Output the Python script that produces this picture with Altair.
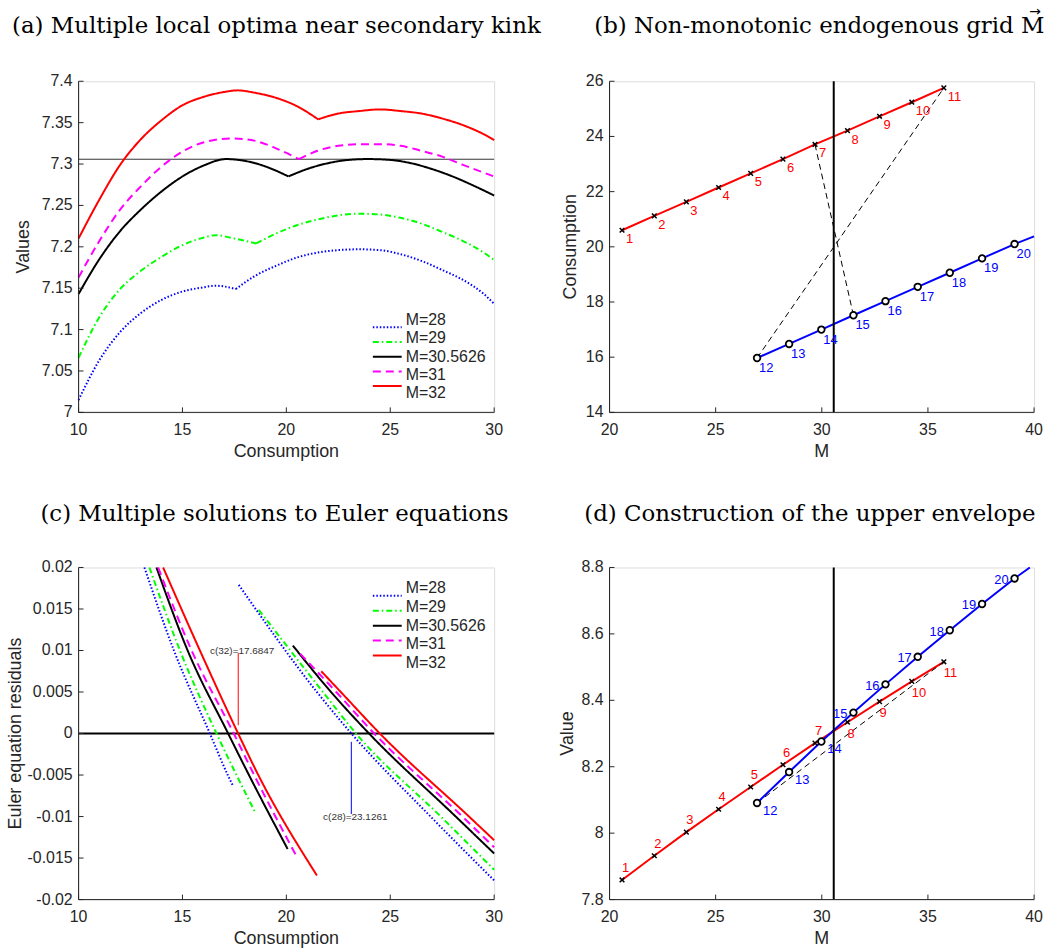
import altair as alt
import pandas as pd

SERIES = ["M=28", "M=29", "M=30.5626", "M=31", "M=32"]
COLORS = ["#0000ff", "#00ff00", "#000000", "#ff00ff", "#ff0000"]
DASHES = [[1.5, 2], [6, 3, 1.5, 3], [1, 0], [8, 5], [1, 0]]

# ---------------- panel (a): values vs consumption ----------------
a_c_28 = [10, 11, 12, 13, 14, 15, 16, 16.6, 17.57, 18.5, 19.5, 20.5, 21.5, 22.5, 23.5, 24.5, 25.5, 26.5, 27.5, 28.5, 29.5, 30]
a_v_28 = [7.015, 7.063, 7.097, 7.120, 7.136, 7.146, 7.151, 7.153, 7.149, 7.165, 7.177, 7.187, 7.193, 7.196, 7.197, 7.196, 7.191, 7.183, 7.172, 7.160, 7.143, 7.131]
a_c_29 = [10, 11, 12, 13, 14, 15, 16, 16.6, 17.5, 18.55, 19.5, 20.5, 21.5, 22.5, 23.5, 24.5, 25.5, 26.5, 27.5, 28.5, 29.5, 30]
a_v_29 = [7.066, 7.115, 7.149, 7.171, 7.188, 7.202, 7.211, 7.214, 7.210, 7.204, 7.216, 7.226, 7.233, 7.238, 7.240, 7.239, 7.235, 7.228, 7.218, 7.207, 7.193, 7.184]
a_c_30 = [10, 11, 12, 13, 14, 15, 16, 17.1, 18.5, 19.5, 20.1, 21, 22, 23, 23.93, 25, 26, 27, 28, 29, 30]
a_v_30 = [7.143, 7.185, 7.219, 7.245, 7.267, 7.285, 7.298, 7.306, 7.301, 7.292, 7.285, 7.294, 7.301, 7.305, 7.306, 7.305, 7.301, 7.294, 7.285, 7.274, 7.262]
a_c_31 = [10, 11, 12, 13, 14, 15, 16, 17.4, 18.5, 19.5, 20.6, 21.5, 22.5, 23.5, 24.5, 25.5, 26.5, 27.5, 28.5, 30]
a_v_31 = [7.163, 7.207, 7.245, 7.273, 7.297, 7.315, 7.326, 7.331, 7.328, 7.319, 7.306, 7.316, 7.322, 7.324, 7.324, 7.322, 7.316, 7.309, 7.299, 7.285]
a_c_32 = [10, 11, 12, 13, 14, 15, 16, 17, 17.65, 18.5, 19.5, 20.5, 21.53, 22.5, 23.5, 24.5, 25.5, 26.5, 27.5, 28.5, 29.5, 30]
a_v_32 = [7.210, 7.257, 7.299, 7.330, 7.353, 7.371, 7.381, 7.387, 7.389, 7.386, 7.380, 7.370, 7.354, 7.361, 7.364, 7.366, 7.364, 7.361, 7.355, 7.347, 7.336, 7.329]
a_kinks = [17.57, 18.55, 20.1, 20.6, 21.53]
a_ref = 7.3058
a_xticks = [10, 15, 20, 25, 30]
a_yticks = [7, 7.05, 7.1, 7.15, 7.2, 7.25, 7.3, 7.35, 7.4]

# ---------------- panel (c): Euler residuals ----------------
c_l_c_28 = [13.17, 14.59, 16.32, 17.18, 17.45]
c_l_r_28 = [0.02, 0.01, 0.0, -0.005, -0.0064]
c_r_c_28 = [17.71, 21.47, 23.13, 26.94, 30.0]
c_r_r_28 = [0.0179, 0.005, 0.0, -0.01, -0.0177]
c_l_c_29 = [13.41, 14.88, 16.64, 17.60, 18.50]
c_l_r_29 = [0.02, 0.01, 0.0, -0.005, -0.0095]
c_r_c_29 = [18.67, 21.76, 23.35, 27.43, 30.0]
c_r_r_29 = [0.0149, 0.005, 0.0, -0.01, -0.0164]
c_l_c_30 = [13.75, 15.25, 17.20, 18.20, 20.06]
c_l_r_30 = [0.02, 0.01, 0.0, -0.005, -0.0139]
c_r_c_30 = [20.31, 22.15, 23.98, 28.15, 30.0]
c_r_r_30 = [0.0106, 0.005, 0.0, -0.01, -0.01445]
c_l_c_31 = [13.83, 15.44, 17.47, 18.45, 20.47]
c_l_r_31 = [0.02, 0.01, 0.0, -0.005, -0.0147]
c_r_c_31 = [20.67, 22.40, 24.23, 28.47, 30.0]
c_r_r_31 = [0.0096, 0.005, 0.0, -0.01, -0.0137]
c_l_c_32 = [14.07, 15.84, 17.68, 18.65, 21.47]
c_l_r_32 = [0.02, 0.01, 0.0, -0.005, -0.0171]
c_r_c_32 = [21.68, 22.62, 24.50, 28.79, 30.0]
c_r_r_32 = [0.0075, 0.005, 0.0, -0.01, -0.01285]
c_ann_text = ["c(32)=17.6847", "c(28)=23.1261"]
c_ann_x = [17.6847, 23.1261]
c_ann_y1 = [0.0097, -0.0010]
c_ann_y2 = [0.0010, -0.0097]
c_ann_ty = [0.0099, -0.0101]
c_ann_col = ["#ff0000", "#0000ff"]
c_xticks = [10, 15, 20, 25, 30]
c_yticks = [-0.02, -0.015, -0.01, -0.005, 0, 0.005, 0.01, 0.015, 0.02]

# ---------------- panels (b) and (d): endogenous grid ----------------
red_ids = [1, 2, 3, 4, 5, 6, 7, 8, 9, 10, 11]
red_m = [20.59, 22.11, 23.62, 25.14, 26.65, 28.17, 29.68, 31.21, 32.72, 34.24, 35.75]
red_c = [20.60, 21.12, 21.63, 22.15, 22.66, 23.18, 23.71, 24.21, 24.73, 25.24, 25.76]
red_v = [7.859, 7.932, 8.003, 8.072, 8.139, 8.206, 8.271, 8.334, 8.396, 8.457, 8.516]
blue_ids = [12, 13, 14, 15, 16, 17, 18, 19, 20]
blue_m = [26.95, 28.46, 29.98, 31.49, 33.00, 34.52, 36.03, 37.55, 39.08]
blue_c = [15.97, 16.48, 17.00, 17.52, 18.03, 18.55, 19.06, 19.58, 20.10]
blue_v = [8.091, 8.184, 8.276, 8.363, 8.448, 8.531, 8.611, 8.690, 8.767]
blue_end_b = [40.0, 20.38]
blue_end_d = [39.8, 8.8]
m_star = 30.5626
bd_xticks = [20, 25, 30, 35, 40]
b_yticks = [14, 16, 18, 20, 22, 24, 26]
d_yticks = [7.8, 8, 8.2, 8.4, 8.6, 8.8]

AXC = "#262626"
SANS = "Liberation Sans"
SERIF = "DejaVu Serif"
ONE = pd.DataFrame({"t": [""]})


def fmt(v):
    return f"{v:g}"


def txt(text, x, y, **kw):
    return alt.Chart(pd.DataFrame({"t": [text]})).mark_text(**kw).encode(
        x=alt.value(x), y=alt.value(y), text="t:N")


def frame(xs, ys, xticks, yticks, W, H, xtitle, ytitle, ytx, ttl, tdx, tty):
    """Axis lines, inward ticks, tick labels, axis titles and panel title."""
    dom_x = alt.Chart(ONE).mark_rule(color=AXC, strokeWidth=1).encode(
        x=alt.value(0), x2=alt.value(W), y=alt.value(H))
    dom_y = alt.Chart(ONE).mark_rule(color=AXC, strokeWidth=1).encode(
        x=alt.value(0), y=alt.value(0), y2=alt.value(H))
    tx = alt.Chart(pd.DataFrame({"t": xticks})).mark_rule(color=AXC, strokeWidth=1).encode(
        x=alt.X("t:Q", scale=xs, axis=None), y=alt.value(H), y2=alt.value(H - 5))
    ty = alt.Chart(pd.DataFrame({"t": yticks})).mark_rule(color=AXC, strokeWidth=1).encode(
        y=alt.Y("t:Q", scale=ys, axis=None), x=alt.value(0), x2=alt.value(5))
    xl = alt.Chart(pd.DataFrame({"t": xticks, "lab": [fmt(v) for v in xticks]})).mark_text(
        font=SANS, fontSize=16, color=AXC, baseline="middle", align="center").encode(
        x=alt.X("t:Q", scale=xs, axis=None), y=alt.value(H + 18), text="lab:N")
    yl = alt.Chart(pd.DataFrame({"t": yticks, "lab": [fmt(v) for v in yticks]})).mark_text(
        font=SANS, fontSize=16, color=AXC, baseline="middle", align="right").encode(
        y=alt.Y("t:Q", scale=ys, axis=None), x=alt.value(-6), text="lab:N")
    xt = txt(xtitle, W / 2, H + 40, font=SANS, fontSize=18, color=AXC,
             baseline="middle", align="center")
    yt = txt(ytitle, ytx, H / 2, font=SANS, fontSize=18, color=AXC,
             baseline="middle", align="center", angle=270)
    tt = txt(ttl, W / 2 + tdx, tty, font=SERIF, fontSize=23, color="black",
             baseline="alphabetic", align="center")
    return [dom_x, dom_y, tx, ty, xl, yl, xt, yt, tt]


def legend_layers(ys_range):
    ysc = alt.Y("series:N", scale=alt.Scale(domain=SERIES, range=ys_range, padding=0),
                axis=None)
    sym = alt.Chart(pd.DataFrame({"series": SERIES})).mark_rule(strokeWidth=2).encode(
        x=alt.value(296), x2=alt.value(325), y=ysc,
        color=alt.Color("series:N", scale=alt.Scale(domain=SERIES, range=COLORS), legend=None),
        strokeDash=alt.StrokeDash("series:N", scale=alt.Scale(domain=SERIES, range=DASHES),
                                  legend=None))
    lab = alt.Chart(pd.DataFrame({"series": SERIES})).mark_text(
        font=SANS, fontSize=16, color=AXC, align="left", baseline="middle").encode(
        x=alt.value(329), y=ysc, text="series:N")
    return [sym, lab]


color_enc = alt.Color("series:N", scale=alt.Scale(domain=SERIES, range=COLORS), legend=None)
dash_enc = alt.StrokeDash("series:N", scale=alt.Scale(domain=SERIES, range=DASHES), legend=None)

# ---- build (a)
rows = []
for s, cs, vs, k in zip(SERIES, [a_c_28, a_c_29, a_c_30, a_c_31, a_c_32],
                        [a_v_28, a_v_29, a_v_30, a_v_31, a_v_32], a_kinks):
    for c, v in zip(cs, vs):
        if c <= k:
            rows.append({"series": s, "seg": s + "L", "c": c, "v": v})
        if c >= k:
            rows.append({"series": s, "seg": s + "R", "c": c, "v": v})
df_a = pd.DataFrame(rows)

WA, HA = 418, 333
xs_a = alt.Scale(domain=[10, 30], nice=False, zero=False)
ys_a = alt.Scale(domain=[7, 7.4], nice=False, zero=False)
lines_a = alt.Chart(df_a).mark_line(strokeWidth=2, interpolate="monotone").encode(
    x=alt.X("c:Q", scale=xs_a, axis=None),
    y=alt.Y("v:Q", scale=ys_a, axis=None),
    color=color_enc, strokeDash=dash_enc, detail="seg:N",
)
ref_a = alt.Chart(pd.DataFrame({"v": [a_ref]})).mark_rule(color="#333333", strokeWidth=1).encode(
    y=alt.Y("v:Q", scale=ys_a, axis=None))
pa = alt.layer(
    ref_a, lines_a,
    *frame(xs_a, ys_a, a_xticks, a_yticks, WA, HA, "Consumption", "Values", -55,
           "(a) Multiple local optima near secondary kink", -10, -49),
    *legend_layers([240, 314]),
).resolve_scale(y="independent").properties(width=WA, height=HA)

# ---- build (c)
rows = []
branches = [
    ("M=28", c_l_c_28, c_l_r_28, c_r_c_28, c_r_r_28),
    ("M=29", c_l_c_29, c_l_r_29, c_r_c_29, c_r_r_29),
    ("M=30.5626", c_l_c_30, c_l_r_30, c_r_c_30, c_r_r_30),
    ("M=31", c_l_c_31, c_l_r_31, c_r_c_31, c_r_r_31),
    ("M=32", c_l_c_32, c_l_r_32, c_r_c_32, c_r_r_32),
]
for s, lc, lr, rc, rr in branches:
    for c, r in zip(lc, lr):
        rows.append({"series": s, "seg": s + "L", "c": c, "r": r})
    for c, r in zip(rc, rr):
        rows.append({"series": s, "seg": s + "R", "c": c, "r": r})
df_c = pd.DataFrame(rows)

WC, HC = 418, 334
xs_c = alt.Scale(domain=[10, 30], nice=False, zero=False)
ys_c = alt.Scale(domain=[-0.02, 0.02], nice=False, zero=False)
lines_c = alt.Chart(df_c).mark_line(strokeWidth=2, interpolate="monotone").encode(
    x=alt.X("c:Q", scale=xs_c, axis=None),
    y=alt.Y("r:Q", scale=ys_c, axis=None),
    color=color_enc, strokeDash=dash_enc, detail="seg:N",
)
zero_c = alt.Chart(pd.DataFrame({"r": [0]})).mark_rule(color="black", strokeWidth=2).encode(
    y=alt.Y("r:Q", scale=ys_c, axis=None))
ann = pd.DataFrame({"txt": c_ann_text, "x": c_ann_x, "y1": c_ann_y1, "y2": c_ann_y2,
                    "ty": c_ann_ty, "col": c_ann_col})
ann_rule = alt.Chart(ann).mark_rule(strokeWidth=1).encode(
    x=alt.X("x:Q", scale=xs_c, axis=None), y=alt.Y("y1:Q", scale=ys_c, axis=None), y2="y2:Q",
    color=alt.Color("col:N", scale=None))
ann_text = alt.Chart(ann).mark_text(font=SANS, fontSize=10, color="#333333", dx=4,
                                    baseline="middle", align="center").encode(
    x=alt.X("x:Q", scale=xs_c, axis=None), y=alt.Y("ty:Q", scale=ys_c, axis=None), text="txt:N")
pc = alt.layer(
    zero_c, lines_c, ann_rule, ann_text,
    *frame(xs_c, ys_c, c_xticks, c_yticks, WC, HC, "Consumption", "Euler equation residuals", -63,
           "(c) Multiple solutions to Euler equations", -12, -47),
    *legend_layers([21, 96]),
).resolve_scale(y="independent").properties(width=WC, height=HC)

# ---- build (b) and (d)
df_red = pd.DataFrame({"id": red_ids, "m": red_m, "c": red_c, "v": red_v})
df_blue = pd.DataFrame({"id": blue_ids, "m": blue_m, "c": blue_c, "v": blue_v})
df_blue_line_b = pd.DataFrame({"m": blue_m + [blue_end_b[0]], "c": blue_c + [blue_end_b[1]]})
df_blue_line_d = pd.DataFrame({"m": blue_m + [blue_end_d[0]], "v": blue_v + [blue_end_d[1]]})
df_dash_b = pd.DataFrame({
    "seg": ["a", "a", "b", "b"],
    "m": [blue_m[0], red_m[10], red_m[6], blue_m[3]],
    "c": [blue_c[0], red_c[10], red_c[6], blue_c[3]],
})
df_dash_d = pd.DataFrame({
    "seg": ["a", "a"],
    "m": [blue_m[0], red_m[10]],
    "v": [blue_v[0], red_v[10]],
})
CROSS = "M-1,-1L1,1M-1,1L1,-1"
WB, HB = 427, 333
WD, HD = 427, 334
xs_bd = alt.Scale(domain=[20, 40], nice=False, zero=False)


def lab(df, color, align, dx, dy, lo=None, hi=None):
    def make(yfield, ys):
        ch = alt.Chart(df).mark_text(font=SANS, fontSize=13, color=color, align=align,
                                     baseline="middle", dx=dx, dy=dy)
        if lo is not None:
            ch = ch.transform_filter(alt.datum.id >= lo)
        if hi is not None:
            ch = ch.transform_filter(alt.datum.id <= hi)
        return ch.encode(x=alt.X("m:Q", scale=xs_bd, axis=None),
                         y=alt.Y(f"{yfield}:Q", scale=ys, axis=None), text="id:N")
    return make


def grid_panel(yfield, ys, yticks, ytitle, ytx, H, W, blue_line_df, dash_df, label_layers,
               ttl, tdx, tty, extra=()):
    xn = alt.X("m:Q", scale=xs_bd, axis=None)
    yn = alt.Y(f"{yfield}:Q", scale=ys, axis=None)
    red_line = alt.Chart(df_red).mark_line(color="#ff0000", strokeWidth=2).encode(x=xn, y=yn)
    blue_line = alt.Chart(blue_line_df).mark_line(color="#0000ff", strokeWidth=2).encode(x=xn, y=yn)
    dash = alt.Chart(dash_df).mark_line(color="black", strokeWidth=1, strokeDash=[6, 4]).encode(
        x=xn, y=yn, detail="seg:N")
    vline = alt.Chart(pd.DataFrame({"m": [m_star]})).mark_rule(color="black", strokeWidth=2).encode(
        x=xn)
    xm = alt.Chart(df_red).mark_point(shape=CROSS, size=22, color="black", strokeWidth=1.5,
                                      opacity=1).encode(x=xn, y=yn)
    om = alt.Chart(df_blue).mark_point(shape="circle", size=44, stroke="black", fill="white",
                                       filled=True, strokeWidth=1.8, opacity=1).encode(x=xn, y=yn)
    labs = [mk(yfield, ys) for mk in label_layers]
    return alt.layer(
        red_line, dash, blue_line, vline, xm, om, *labs,
        *frame(xs_bd, ys, bd_xticks, yticks, W, H, "M", ytitle, ytx, ttl, tdx, tty),
        *extra,
    ).properties(width=W, height=H)


# arrow accent over the M in panel (b)'s title
arrow_b = txt("\u2192", 428, -70, font="DejaVu Sans", fontSize=14, color="black",
              align="center", baseline="middle")

ys_b = alt.Scale(domain=[14, 26], nice=False, zero=False)
ys_d = alt.Scale(domain=[7.8, 8.8], nice=False, zero=False)
pb = grid_panel("c", ys_b, b_yticks, "Consumption", -39, HB, WB, df_blue_line_b, df_dash_b,
                [lab(df_red, "#ff0000", "left", 4, 9), lab(df_blue, "#0000ff", "left", 2, 10)],
                "(b) Non-monotonic endogenous grid M", -2.5, -49, extra=(arrow_b,))
pd_ = grid_panel("v", ys_d, d_yticks, "Value", -42, HD, WD, df_blue_line_d, df_dash_d,
                 [lab(df_red, "#ff0000", "left", 0, -12, hi=7),
                  lab(df_red, "#ff0000", "left", 0, 11.5, lo=8),
                  lab(df_blue, "#0000ff", "left", 6, 8, hi=14),
                  lab(df_blue, "#0000ff", "right", -6, 1.5, lo=15)],
                 "(d) Construction of the upper envelope", -12, -47)

chart = alt.concat(pa, pb, pc, pd_, columns=2, spacing={"row": 156, "column": 116},
                   bounds="flush").properties(
    padding={"left": 6, "top": 1, "right": 2, "bottom": 0}
).configure_view(strokeWidth=0).configure(background="white")

chart.save("out.html", embed_options={"renderer": "svg", "actions": False})
